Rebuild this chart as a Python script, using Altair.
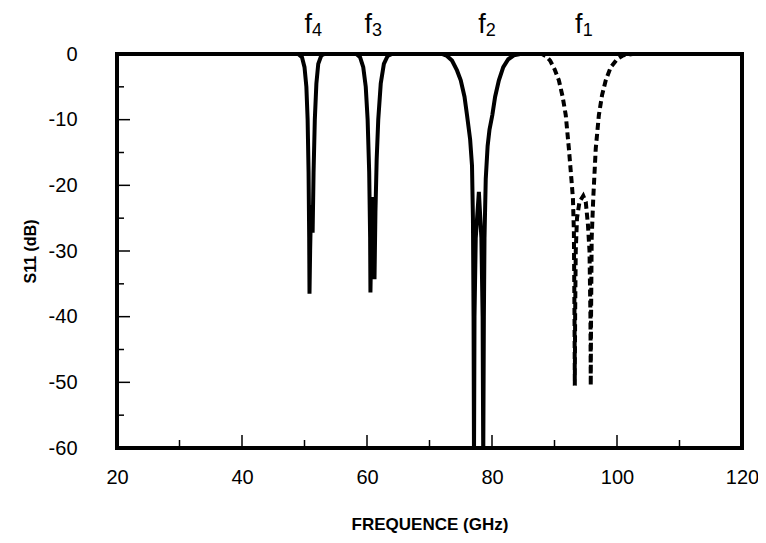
import altair as alt
import pandas as pd

# ---- data ----
solid_freq = [45, 49.0, 49.6, 50.0, 50.3, 50.5, 50.65, 50.75, 50.8, 50.9, 51.05, 51.3, 51.45, 51.65, 51.9, 52.2, 52.7, 53.2,
              58.3, 58.9, 59.4, 59.8, 60.1, 60.35, 60.5, 60.55, 60.7, 60.9, 61.1, 61.2, 61.35, 61.55, 61.8, 62.2, 62.7, 63.3, 64,
              72, 72.8, 73.6, 74.4, 75.0, 75.6, 76.0, 76.5, 76.8, 76.95, 77.05, 77.12, 77.2, 77.4, 77.9, 78.3, 78.5, 78.6,
              78.7, 78.8, 79.0, 79.3, 79.6, 80.05, 80.5, 81.1, 81.8, 82.6, 83.5, 84.5, 86]
solid_db = [0, 0, -0.5, -2, -5, -10, -18, -28, -36.5, -30, -23, -27.2, -18, -10, -4.5, -1.5, -0.2, 0,
            0, -0.5, -2, -5, -10, -18, -28, -36.3, -28, -21.8, -28, -34.3, -24, -16, -10, -4.5, -1.5, -0.3, 0,
            0, -0.3, -1, -2.5, -4, -6.5, -9.3, -13, -17, -25, -40, -62, -40, -28, -21, -28, -40, -62,
            -40, -28, -19, -14, -11.5, -9.3, -6.5, -4, -2, -0.8, -0.2, 0, 0]

dashed_freq = [84, 88, 88.6, 89.3, 90.0, 90.7, 91.3, 91.8, 92.3, 92.7, 92.95, 93.1, 93.2, 93.25, 93.3, 93.4, 93.6, 94.0,
               94.6, 95.0, 95.35, 95.6, 95.75, 95.8, 95.85, 95.95, 96.2, 96.6, 97.1, 97.6, 98.2, 99.0, 100.0, 101, 102.5, 108]
dashed_db = [0, 0, -0.3, -1, -2.3, -4, -6.5, -9.3, -14.4, -19, -22, -27, -40, -50.5, -40, -30, -25, -22.5,
             -21.6, -22.5, -26, -30, -40, -50.5, -40, -28, -22, -14.4, -9.3, -6.3, -4, -2, -0.8, -0.2, 0, 0]

x_labels = [20, 40, 60, 80, 100, 120]
y_labels = [0, -10, -20, -30, -40, -50, -60]
x_major = [40, 60, 80, 100]
x_minor = [30, 50, 70, 90, 110]
y_major = [-10, -20, -30, -40, -50]
y_minor = [-5, -15, -25, -35, -45, -55]
peak_freq = [51.2, 60.8, 79.0, 94.5]
peak_sub = ["4", "3", "2", "1"]

FONT = "Liberation Sans"
W, H = 625, 394

xscale = alt.Scale(domain=[20, 120], nice=False, zero=False)
yscale = alt.Scale(domain=[-60, 0], nice=False, zero=False)
xaxis = alt.Axis(title="FREQUENCE (GHz)", values=x_labels, ticks=False, domain=False, grid=False,
                 labelFontSize=20, labelPadding=19, labelFlush=False, labelOverlap=False, labelBound=False,
                 titleFontSize=17, titleFontWeight="bold", titlePadding=29, labelFont=FONT, titleFont=FONT,
                 labelColor="black", titleColor="black", labelExpr="datum.value + ''")
yaxis = alt.Axis(title="S11 (dB)", values=y_labels, ticks=False, domain=False, grid=False,
                 labelFontSize=20, labelPadding=40, labelFlush=False, labelOverlap=False, labelBound=False,
                 titleFontSize=16, titleFontWeight="bold", titlePadding=10, labelFont=FONT, titleFont=FONT,
                 labelColor="black", titleColor="black", labelExpr="datum.value + ''")


def X(f):
    return alt.X(f, type="quantitative", scale=xscale, axis=xaxis)


def Y(f):
    return alt.Y(f, type="quantitative", scale=yscale, axis=yaxis)


solid = pd.DataFrame({"freq": solid_freq, "db": solid_db, "i": range(len(solid_freq))})
dashed = pd.DataFrame({"freq": dashed_freq, "db": dashed_db, "i": range(len(dashed_freq))})

solid_line = alt.Chart(solid).mark_line(color="black", strokeWidth=4, clip=True, strokeJoin="miter").encode(
    x=X("freq"), y=Y("db"), order="i:Q")
dashed_line = alt.Chart(dashed).mark_line(color="black", strokeWidth=4, clip=True, strokeDash=[7, 4]).encode(
    x=X("freq"), y=Y("db"), order="i:Q")

xmaj = alt.Chart(pd.DataFrame({"v": x_major})).mark_rule(color="black", strokeWidth=1.5).encode(
    x=X("v"), y=alt.value(H), y2=alt.value(H - 13))
xmin = alt.Chart(pd.DataFrame({"v": x_minor})).mark_rule(color="black", strokeWidth=1.5).encode(
    x=X("v"), y=alt.value(H), y2=alt.value(H - 8))
ymaj = alt.Chart(pd.DataFrame({"v": y_major})).mark_rule(color="black", strokeWidth=1.5).encode(
    y=Y("v"), x=alt.value(0), x2=alt.value(13))
ymin = alt.Chart(pd.DataFrame({"v": y_minor})).mark_rule(color="black", strokeWidth=1.5).encode(
    y=Y("v"), x=alt.value(0), x2=alt.value(7))

labels = pd.DataFrame({"freq": peak_freq, "sub": peak_sub})
f_text = alt.Chart(labels).mark_text(fontSize=27, font=FONT, align="right", baseline="alphabetic", color="black").encode(
    x=X("freq"), y=alt.value(-21), text=alt.value("f"))
sub_text = alt.Chart(labels).mark_text(fontSize=18, font=FONT, align="left", baseline="alphabetic", color="black").encode(
    x=X("freq"), y=alt.value(-18), text="sub:N")

chart = alt.layer(xmaj, xmin, ymaj, ymin, solid_line, dashed_line, f_text, sub_text).properties(
    width=W, height=H,
    autosize=alt.AutoSizeParams(type="none"),
    padding={"left": 109, "top": 46, "right": 16, "bottom": 87},
).configure(
    background="white",
    view=alt.ViewConfig(stroke="black", strokeWidth=4),
)

chart.save("out.html", embed_options={"renderer": "svg", "actions": False})
